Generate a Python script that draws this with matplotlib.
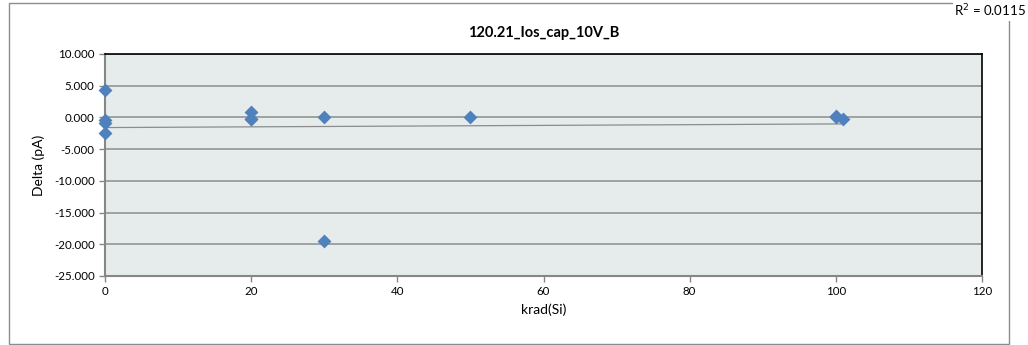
import numpy as np
import matplotlib
matplotlib.use("Agg")
import matplotlib.pyplot as plt
from matplotlib.patches import Rectangle
from matplotlib.ticker import FormatStrFormatter

plt.rcParams["font.family"] = ["Lato", "DejaVu Sans"]

# dose (krad(Si)) and delta (pA)
DOSE = [0, 0, 0, 0, 20, 20, 20, 30, 30, 50, 100, 100, 101]
DELTA = [4.4, -0.4, -0.9, -2.5, 0.9, -0.2, -0.3, 0.1, -19.5, 0.1, 0.3, 0.1, -0.2]
TITLE = "120.21_Ios_cap_10V_B"
R2_TEXT = "R$^2$ = 0.0115"

fig = plt.figure(figsize=(10.28, 3.45), dpi=100)
ax = fig.add_axes([0.1021, 0.2, 0.8532, 0.6435])
ax.set_facecolor("#E6ECEC")

# outer chart border
fig.patches.append(Rectangle((9 / 1028, 1 - 344 / 345), 1000 / 1028, 341 / 345,
                             transform=fig.transFigure, fill=False,
                             edgecolor="#8C8C8C", lw=1.0))

ax.set_xlim(0, 120)
ax.set_ylim(-25, 10)
ax.set_xticks(np.arange(0, 121, 20))
ax.set_yticks(np.arange(-25, 10.1, 5))
ax.yaxis.set_major_formatter(FormatStrFormatter("%.3f"))
ax.grid(axis="y", color="#8C8C8C", lw=1.1)
ax.set_axisbelow(True)

# linear trend line
coef = np.polyfit(DOSE, DELTA, 1)
xs = np.array([min(DOSE), max(DOSE)])
ax.plot(xs, np.polyval(coef, xs), color="#8C8C8C", lw=0.9, zorder=2)

ax.scatter(DOSE, DELTA, marker="D", s=50, color="#4F81BD", zorder=3,
           clip_on=False, linewidths=0)

for side in ("top", "right"):
    ax.spines[side].set_color("black")
    ax.spines[side].set_linewidth(1.2)
for side in ("left", "bottom"):
    ax.spines[side].set_color("#868686")
    ax.spines[side].set_linewidth(1.5)
ax.tick_params(axis="both", labelsize=8.3, color="#868686", length=4, width=1)

ax.set_title(TITLE, fontsize=10.5, fontweight="bold", pad=12)
ax.set_xlabel("krad(Si)", fontsize=10, labelpad=4)
ax.set_ylabel("Delta (pA)", fontsize=10, labelpad=6)
fig.text(0.998, 0.968, R2_TEXT, ha="right", va="center", fontsize=9.5,
         bbox=dict(facecolor="white", edgecolor="none", pad=1))

fig.savefig("out.png", dpi=100)
